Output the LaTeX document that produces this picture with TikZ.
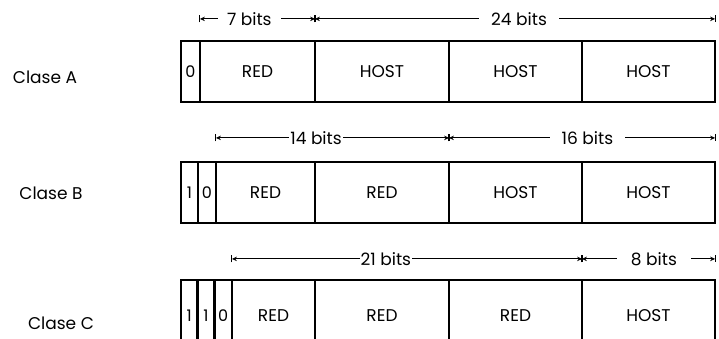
\documentclass[tikz,border=0pt]{standalone}
\usepackage{fontspec}
\setmainfont{Poppins}
\usetikzlibrary{arrows.meta}
\begin{document}
\begin{tikzpicture}[
  x=1pt, y=-1pt,
  >={Stealth[length=5pt,width=4.5pt]},
  cell/.style={draw, line width=2.2pt, inner sep=0pt, minimum height=61pt, font=\fontsize{17}{17}\selectfont},
  bitcell/.style={cell, font=\fontsize{16}{16}\selectfont},
  lowcell/.style={minimum height=72pt},
  dimline/.style={|<->|, line width=1pt},
  bitlabel/.style={fill=white, inner ysep=1pt, font=\fontsize{17}{17}\selectfont},
  classlabel/.style={font=\fontsize{17}{17}\selectfont}
]
\clip (0,0) rectangle (719,338);
\fill[white] (0,0) rectangle (719,338);

\node[classlabel] (clA) at (45,77) {Clase A};
\node[classlabel] (clB) at (51,193) {Clase B};
\node[classlabel] (clC) at (61,323) {Clase C};

\node[bitcell, minimum width=19pt] (a0) at (190.5,71.5) {0};
\node[cell, minimum width=115pt] (a1) at (257.5,71.5) {RED};
\node[cell, minimum width=134pt] (a2) at (382,71.5) {HOST};
\node[cell, minimum width=133pt] (a3) at (515.5,71.5) {HOST};
\node[cell, minimum width=133pt] (a4) at (648.5,71.5) {HOST};

\node[bitcell, minimum width=17pt] (b0) at (189.5,192.5) {1};
\node[bitcell, minimum width=18pt] (b1) at (207,192.5) {0};
\node[cell, minimum width=99pt] (b2) at (265.5,192.5) {RED};
\node[cell, minimum width=134pt] (b3) at (382,192.5) {RED};
\node[cell, minimum width=133pt] (b4) at (515.5,192.5) {HOST};
\node[cell, minimum width=133pt] (b5) at (648.5,192.5) {HOST};

\node[bitcell, lowcell, minimum width=16.5pt] (c0) at (189.25,316) {1};
\node[bitcell, lowcell, minimum width=17pt] (c1) at (206,316) {1};
\node[bitcell, lowcell, minimum width=17.5pt] (c2) at (223.25,316) {0};
\node[cell, lowcell, minimum width=83pt] (c3) at (273.5,316) {RED};
\node[cell, lowcell, minimum width=134pt] (c4) at (382,316) {RED};
\node[cell, lowcell, minimum width=133pt] (c5) at (515.5,316) {RED};
\node[cell, lowcell, minimum width=133pt] (c6) at (648.5,316) {HOST};

\draw[dimline] ([yshift=21pt]a1.north west) -- ([yshift=21pt]a1.north east)
  node[bitlabel, pos=0.43, inner xsep=9pt] {7 bits};
\draw[dimline] ([yshift=21pt]a2.north west) -- ([yshift=21pt]a4.north east)
  node[bitlabel, pos=0.51, inner xsep=12pt] {24 bits};
\draw[dimline] ([yshift=23pt]b2.north west) -- ([yshift=23pt]b3.north east)
  node[bitlabel, pos=0.43, inner xsep=1pt] {14 bits};
\draw[dimline] ([yshift=23pt]b4.north west) -- ([yshift=23pt]b5.north east)
  node[bitlabel, pos=0.52, inner xsep=12pt] {16 bits};
\draw[dimline] ([yshift=20pt]c3.north west) -- ([yshift=20pt]c5.north east)
  node[bitlabel, pos=0.44, inner xsep=1pt] {21 bits};
\draw[dimline] ([yshift=20pt]c6.north west) -- ([yshift=20pt]c6.north east)
  node[bitlabel, pos=0.54, inner xsep=14pt] {8 bits};
\end{tikzpicture}
\end{document}
